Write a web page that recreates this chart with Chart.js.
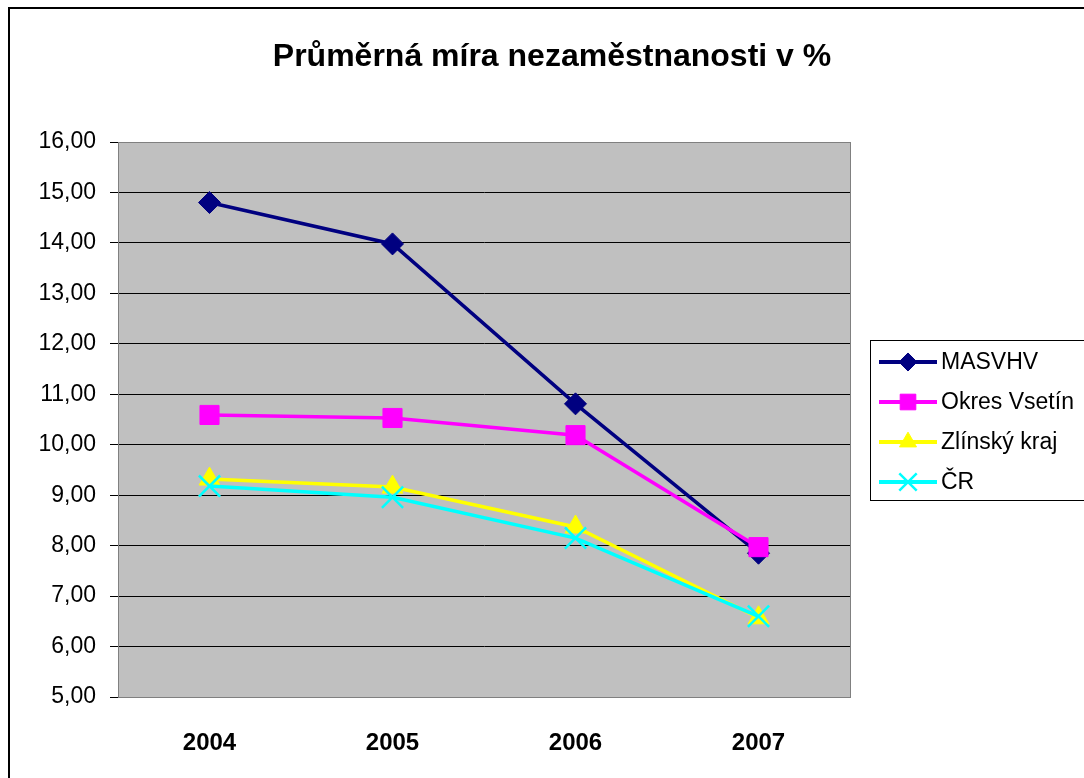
<!DOCTYPE html>
<html>
<head>
<meta charset="utf-8">
<script src="https://cdn.jsdelivr.net/npm/chart.js@4.4.0/dist/chart.umd.min.js"></script>
<style>
  html, body { margin: 0; padding: 0; background: #fff; }
  #wrap { width: 1084px; height: 778px; position: relative; }
</style>
</head>
<body>
<div id="wrap"><canvas id="nezam" width="1084" height="778"></canvas></div>
<script>
const years = ['2004', '2005', '2006', '2007'];
const masvhv = [14.80, 13.98, 10.81, 7.85];
const okresVsetin = [10.59, 10.53, 10.19, 7.97];
const zlinskyKraj = [9.32, 9.16, 8.37, 6.57];
const cr = [9.18, 8.96, 8.15, 6.60];
const seriesNames = ['MASVHV', 'Okres Vsetín', 'Zlínský kraj', 'ČR'];
const yMin = 5, yMax = 16;

const FONT = '"Liberation Sans", Arial, sans-serif';

// frame, plot background, title and boxed legend
const excelLook = {
    id: 'excelLook',
    beforeDraw(chart) {
        const c = chart.ctx, a = chart.chartArea;
        c.save();
        c.fillStyle = '#fff';
        c.fillRect(0, 0, chart.width, chart.height);
        c.strokeStyle = '#000';
        c.lineWidth = 2;
        c.strokeRect(9, 8, chart.width + 20, chart.height + 20);
        c.fillStyle = '#c0c0c0';
        c.fillRect(a.left, a.top, a.right - a.left, a.bottom - a.top);
        c.restore();
    },
    afterDatasetsDraw(chart) {
        const c = chart.ctx, a = chart.chartArea;
        c.save();
        c.strokeStyle = '#808080';
        c.lineWidth = 1;
        c.strokeRect(a.left + 0.5, a.top + 0.5, a.right - a.left, a.bottom - a.top);
        c.restore();
    },
    afterDraw(chart) {
        const c = chart.ctx;
        c.save();
        c.fillStyle = '#000';
        c.font = 'bold 32px ' + FONT;
        c.textAlign = 'center';
        c.textBaseline = 'middle';
        c.fillText('Průměrná míra nezaměstnanosti v %', 552, 57);

        // legend box
        c.strokeStyle = '#000';
        c.lineWidth = 1;
        c.strokeRect(870.5, 340.5, 230, 160);
        c.font = '23px ' + FONT;
        c.textAlign = 'left';
        chart.data.datasets.forEach((ds, i) => {
            const y = 362 + i * 40;
            c.strokeStyle = ds.borderColor;
            c.lineWidth = 4;
            c.beginPath();
            c.moveTo(879, y);
            c.lineTo(937, y);
            c.stroke();
            c.fillStyle = ds.pointBackgroundColor;
            c.strokeStyle = ds.pointBorderColor;
            c.lineWidth = ds.pointBorderWidth || 1;
            Chart.helpers.drawPoint(c, {
                pointStyle: ds.pointStyle,
                radius: ds.pointRadius * 0.82,
                borderWidth: ds.pointBorderWidth || 1
            }, 908, y);
            c.fillStyle = '#000';
            c.fillText(ds.label, 941, y + 1);
        });
        c.restore();
    }
};

function series(label, data, color, style, radius, order) {
    return {
        label: label,
        data: data,
        borderColor: color,
        backgroundColor: color,
        pointBackgroundColor: color,
        pointBorderColor: color,
        pointBorderWidth: style === 'crossRot' ? 2.5 : 1,
        pointStyle: style,
        pointRadius: radius,
        pointHoverRadius: radius,
        borderWidth: 3.5,
        tension: 0,
        order: order
    };
}

new Chart(document.getElementById('nezam').getContext('2d'), {
    type: 'line',
    data: {
        labels: years,
        datasets: [
            series(seriesNames[0], masvhv, '#000080', 'rectRot', 11, 4),
            series(seriesNames[1], okresVsetin, '#ff00ff', 'rect', 13.5, 3),
            series(seriesNames[2], zlinskyKraj, '#ffff00', 'triangle', 12, 2),
            series(seriesNames[3], cr, '#00ffff', 'crossRot', 15, 1)
        ]
    },
    plugins: [excelLook],
    options: {
        responsive: false,
        animation: false,
        layout: { padding: { left: 10, top: 142, right: 234, bottom: 11 } },
        plugins: {
            legend: { display: false },
            title: { display: false },
            tooltip: { enabled: false }
        },
        scales: {
            x: {
                offset: true,
                grid: { display: false, drawTicks: false },
                border: { display: false },
                ticks: { color: '#000', padding: 32, font: { family: FONT, size: 24, weight: 'bold' } },
                afterFit(scale) { scale.height = 70; }
            },
            y: {
                min: yMin,
                max: yMax,
                ticks: {
                    stepSize: 1,
                    color: '#000',
                    padding: 14,
                    font: { family: FONT, size: 23 },
                    callback: v => v.toFixed(2).replace('.', ',')
                },
                grid: { color: '#000', lineWidth: 1, tickLength: 8, tickColor: '#000' },
                border: { display: true, color: '#000' },
                afterFit(scale) { scale.width = 108; }
            }
        }
    }
});
</script>
</body>
</html>
